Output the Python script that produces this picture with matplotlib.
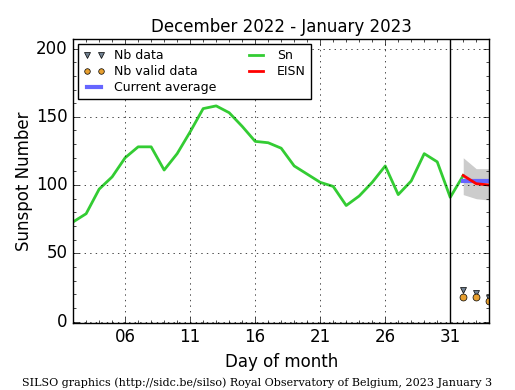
import matplotlib
matplotlib.use("Agg")
import matplotlib.pyplot as plt
from matplotlib.ticker import MultipleLocator

# daily sunspot number Sn, Dec 2022 (day 2..31) + Jan 1 (day 32)
days = list(range(2, 33))
sn = [73, 79, 97, 106, 120, 128, 128, 111, 123, 139, 156, 158, 153, 143,
      132, 131, 127, 114, 108, 102, 99, 85, 92, 102, 114, 93, 103, 123,
      117, 91, 107]

# estimated ISN for the first days of January
eisn_days = [32, 33, 34]
eisn = [107, 101, 100]
eisn_low = [93, 90, 89]
eisn_high = [120, 112, 112]
current_avg = 103

# number of stations
nb_data = [23, 21, 17]
nb_valid = [18, 18, 15]

plt.style.use("classic")
fig = plt.figure(figsize=(5.15, 3.9), dpi=100)
ax = fig.add_axes([0.142, 0.172, 0.808, 0.728])

ax.fill_between(eisn_days, eisn_low, eisn_high, color="#cccccc", lw=0)
ax.plot(days, sn, color="#33cc33", lw=2, label="Sn")
ax.plot([eisn_days[0], eisn_days[-1]], [current_avg, current_avg],
        color="#6666ff", lw=3, label="Current average")
ax.plot(eisn_days, eisn, color="r", lw=2, label="EISN")
ax.plot(eisn_days, nb_data, "v", color="#708090", ms=5, ls="none",
        label="Nb data")
ax.plot(eisn_days, nb_valid, "o", color="#e8a030", ms=5, ls="none",
        label="Nb valid data")
ax.axvline(31, color="k", lw=1)

ax.set_xlim(2, 34)
ax.set_ylim(-1, 207)
ax.set_xticks([6, 11, 16, 21, 26, 31])
ax.set_xticklabels(["06", "11", "16", "21", "26", "31"])
ax.set_yticks([0, 50, 100, 150, 200])
ax.xaxis.set_minor_locator(MultipleLocator(1))
ax.yaxis.set_minor_locator(MultipleLocator(10))
ax.grid(True)

ax.set_title("December 2022 - January 2023", fontsize=12)
ax.set_xlabel("Day of month", fontsize=12)
ax.set_ylabel("Sunspot Number", fontsize=12, labelpad=2)

h, l = ax.get_legend_handles_labels()
order = [l.index(n) for n in ["Nb data", "Nb valid data", "Current average", "Sn", "EISN"]]
leg = ax.legend([h[i] for i in order], [l[i] for i in order], loc="upper left",
                ncol=2, fontsize=9, numpoints=2, handlelength=1.7, markerscale=0.8,
                borderaxespad=0.4, labelspacing=0.25, columnspacing=2.3)

fig.text(0.5, 0.01, "SILSO graphics (http://sidc.be/silso) Royal Observatory of Belgium, 2023 January 3",
         ha="center", fontsize=8, family="DejaVu Serif")

fig.savefig("out.png", dpi=100)
